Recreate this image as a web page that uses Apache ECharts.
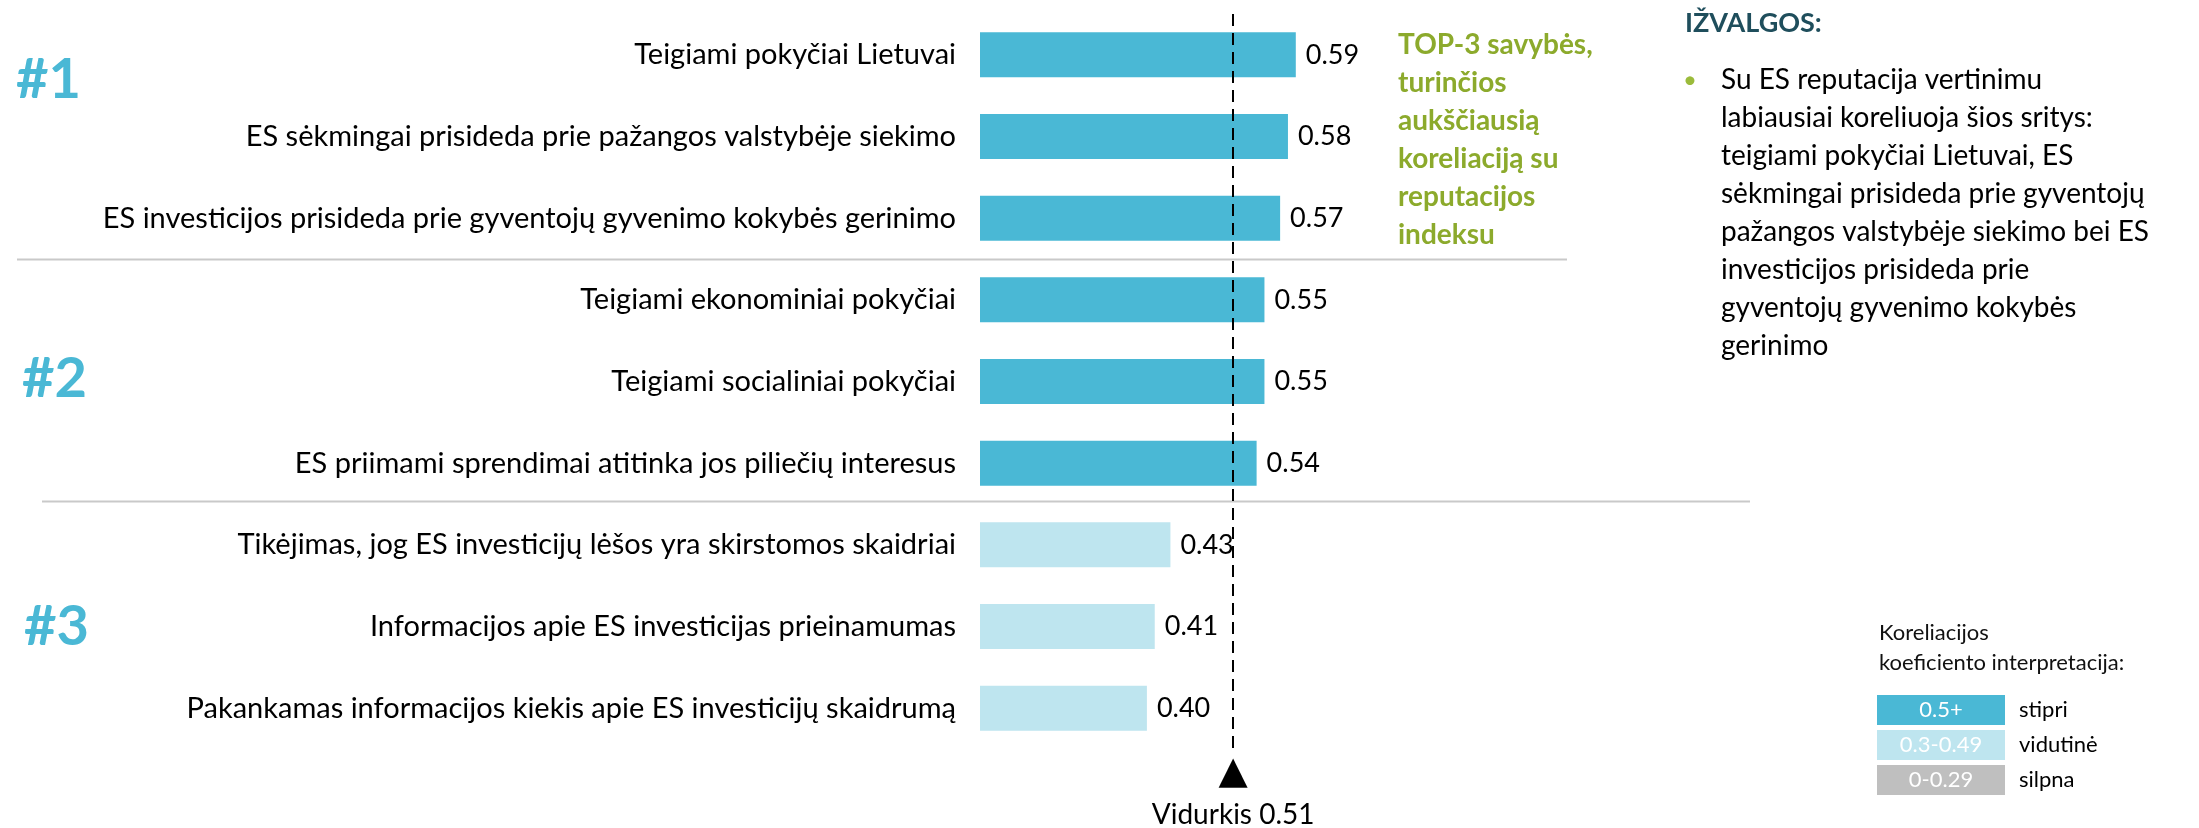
<!DOCTYPE html>
<html>
<head>
<meta charset="utf-8">
<script src="https://cdn.jsdelivr.net/npm/echarts@6/dist/echarts.min.js"></script>
<style>
  html, body { margin: 0; padding: 0; background: #fff; }
  #chart { width: 2199px; height: 828px; }
</style>
</head>
<body>
<div id="chart"></div>
<script>
// data
const categories = [
  'Teigiami pokyčiai Lietuvai',
  'ES sėkmingai prisideda prie pažangos valstybėje siekimo',
  'ES investicijos prisideda prie gyventojų gyvenimo kokybės gerinimo',
  'Teigiami ekonominiai pokyčiai',
  'Teigiami socialiniai pokyčiai',
  'ES priimami sprendimai atitinka jos piliečių interesus',
  'Tikėjimas, jog ES investicijų lėšos yra skirstomos skaidriai',
  'Informacijos apie ES investicijas prieinamumas',
  'Pakankamas informacijos kiekis apie ES investicijų skaidrumą'
];
const values = [0.59, 0.58, 0.57, 0.55, 0.55, 0.54, 0.43, 0.41, 0.40];
const averageLabel = 'Vidurkis';
const groupLabels = ['#1', '#2', '#3'];
const highlightLines = ['TOP-3 savybės,', 'turinčios', 'aukščiausią', 'koreliaciją su', 'reputacijos', 'indeksu'];
const insightTitle = 'IŽVALGOS:';
const insightLines = [
  'Su ES reputacija vertinimu',
  'labiausiai koreliuoja šios sritys:',
  'teigiami pokyčiai Lietuvai, ES',
  'sėkmingai prisideda prie gyventojų',
  'pažangos valstybėje siekimo bei ES',
  'investicijos prisideda prie',
  'gyventojų gyvenimo kokybės',
  'gerinimo'
];
const legendTitle = ['Koreliacijos', 'koeficiento interpretacija:'];
const legendRanges = ['0.5+', '0.3-0.49', '0-0.29'];
const legendNames = ['stipri', 'vidutinė', 'silpna'];

const STRONG = '#4AB8D5';
const MEDIUM = '#BEE5EF';
const WEAK = '#BFBFBF';
const FONT = 'Lato, "Open Sans", sans-serif';

const colorFor = v => (v >= 0.5 ? STRONG : v >= 0.3 ? MEDIUM : WEAK);

const chart = echarts.init(document.getElementById('chart'));

const groupY = [80, 379, 627];
const groupX = [16, 22, 24];
const graphic = [];

groupLabels.forEach((t, i) => {
  graphic.push({
    type: 'text', x: groupX[i], y: groupY[i],
    style: { text: t, fill: STRONG, fontFamily: FONT, fontWeight: 'bold', fontSize: 56,
      align: 'left', verticalAlign: 'middle', textAlign: 'left', textVerticalAlign: 'middle' }
  });
});

// separators between groups
graphic.push(
  { type: 'line', shape: { x1: 17, y1: 259.5, x2: 1567, y2: 259.5 }, style: { stroke: '#C9C9C9', lineWidth: 2 } },
  { type: 'line', shape: { x1: 42, y1: 501.5, x2: 1750, y2: 501.5 }, style: { stroke: '#C9C9C9', lineWidth: 2 } }
);

graphic.push({
  type: 'text', x: 1398, y: 26,
  style: { text: highlightLines.join('\n'), fill: '#8CAA2C', fontFamily: FONT, fontWeight: 'bold',
    fontSize: 28, lineHeight: 38, align: 'left', verticalAlign: 'top', textAlign: 'left', textVerticalAlign: 'top' }
});

graphic.push({
  type: 'text', x: 1685, y: 23,
  style: { text: insightTitle, fill: '#1F4E5C', fontFamily: FONT, fontWeight: 'bold', fontSize: 27,
    align: 'left', verticalAlign: 'middle', textAlign: 'left', textVerticalAlign: 'middle' }
});
graphic.push({
  type: 'text', x: 1690, y: 80,
  style: { text: '•', fill: '#9BBB3B', fontFamily: FONT, fontSize: 24,
    align: 'center', verticalAlign: 'middle', textAlign: 'center', textVerticalAlign: 'middle' }
});
graphic.push({
  type: 'text', x: 1721, y: 61,
  style: { text: insightLines.join('\n'), fill: '#000', fontFamily: FONT, fontSize: 28, lineHeight: 38,
    align: 'left', verticalAlign: 'top', textAlign: 'left', textVerticalAlign: 'top' }
});

graphic.push({
  type: 'text', x: 1879, y: 618,
  style: { text: legendTitle.join('\n'), fill: '#111', fontFamily: FONT, fontSize: 22, lineHeight: 30,
    align: 'left', verticalAlign: 'top', textAlign: 'left', textVerticalAlign: 'top' }
});
const legendColors = [STRONG, MEDIUM, WEAK];
legendRanges.forEach((r, i) => {
  const y = 695 + i * 35;
  graphic.push({ type: 'rect', shape: { x: 1877, y: y, width: 128, height: 30 }, style: { fill: legendColors[i] } });
  graphic.push({
    type: 'text', x: 1941, y: y + 15,
    style: { text: r, fill: '#fff', fontFamily: FONT, fontSize: 22,
      align: 'center', verticalAlign: 'middle', textAlign: 'center', textVerticalAlign: 'middle' }
  });
  graphic.push({
    type: 'text', x: 2019, y: y + 15,
    style: { text: legendNames[i], fill: '#000', fontFamily: FONT, fontSize: 22,
      align: 'left', verticalAlign: 'middle', textAlign: 'left', textVerticalAlign: 'middle' }
  });
});

const option = {
  animation: false,
  backgroundColor: '#fff',
  grid: { left: 980, top: 14, width: 478, height: 735 },
  xAxis: { type: 'value', min: 0.187, max: 0.797, show: false },
  yAxis: {
    type: 'category', inverse: true, data: categories,
    axisLine: { show: false }, axisTick: { show: false }, splitLine: { show: false },
    axisLabel: { color: '#000', fontSize: 29, fontFamily: FONT, margin: 24 }
  },
  series: [{
    type: 'bar',
    data: values,
    barWidth: 45,
    clip: true,
    itemStyle: { color: p => colorFor(p.value) },
    label: {
      show: true, position: 'right', distance: 10, color: '#000',
      fontSize: 27, fontFamily: FONT, formatter: p => p.value.toFixed(2)
    },
    markLine: {
      silent: true,
      symbol: ['none', 'none'],
      lineStyle: { color: '#000', type: [12, 7], width: 2 },
      label: {
        show: true, position: 'end', distance: 8,
        formatter: p => '{tri|▲}\n{txt|' + averageLabel + ' ' + p.value.toFixed(2) + '}',
        rich: {
          tri: { fontFamily: 'DejaVu Sans', fontSize: 38, lineHeight: 32, color: '#000', align: 'center' },
          txt: { fontFamily: FONT, fontSize: 28, lineHeight: 52, color: '#000', align: 'center' }
        }
      },
      data: [{ type: 'average', valueDim: 'x' }]
    }
  }],
  graphic: graphic
};

chart.setOption(option);
</script>
</body>
</html>
